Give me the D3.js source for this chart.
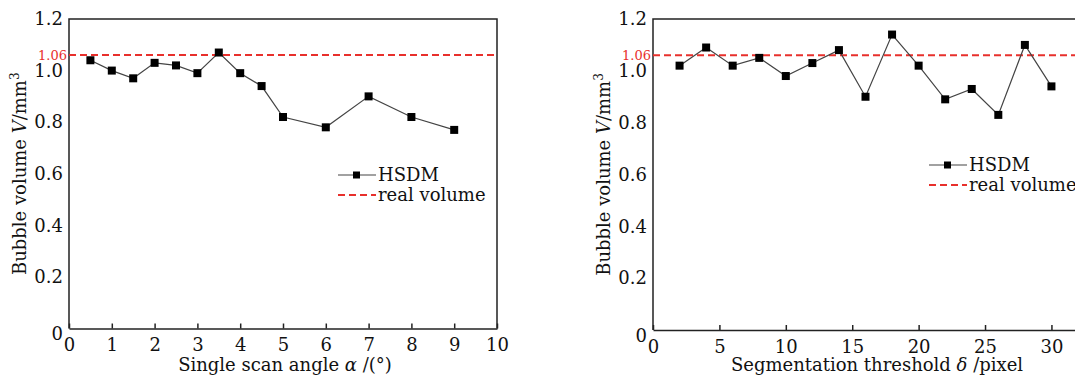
<!DOCTYPE html>
<html lang="en">
  <head>
    <meta charset="UTF-8" />
    <title>Bubble volume</title>
    <style>
      body { margin: 0; background: #fff; }
      text { font-family: "DejaVu Serif", serif; fill: #111; }
    </style>
  </head>
  <body>
    <svg width="1075" height="378"></svg>

    <script src="https://d3js.org/d3.v7.min.js"></script>
    <script>
      // left panel: single scan angle
      const angleX = [0.5, 1, 1.5, 2, 2.5, 3, 3.5, 4, 4.5, 5, 6, 7, 8, 9];
      const angleV = [1.04, 1.0, 0.97, 1.03, 1.02, 0.99, 1.07, 0.99, 0.94, 0.82, 0.78, 0.9, 0.82, 0.77];
      // right panel: segmentation threshold
      const threshX = [2, 4, 6, 8, 10, 12, 14, 16, 18, 20, 22, 24, 26, 28, 30];
      const threshV = [1.02, 1.09, 1.02, 1.05, 0.98, 1.03, 1.08, 0.9, 1.14, 1.02, 0.89, 0.93, 0.83, 1.1, 0.94];
      const realVolume = 1.06;
      const yTicks = [0, 0.2, 0.4, 0.6, 0.8, 1.0, 1.2];
      const angleTicks = [0, 1, 2, 3, 4, 5, 6, 7, 8, 9, 10];
      const threshTicks = [0, 5, 10, 15, 20, 25, 30];

      const svg = d3.select("svg");

      const panels = [
        {
          xs: angleX, ys: angleV, ticks: angleTicks, domain: [0, 10],
          left: 69, right: 497, top: 19, bottom: 328.5, boxRight: true,
          xlabel: "Single scan angle", sym: "α", unit: " /(°)", xlabelX: 285,
          legendX: 338, legendY: 175, ylabelX: 26
        },
        {
          xs: threshX, ys: threshV, ticks: threshTicks, domain: [0, 32],
          left: 653, right: 1078, top: 19, bottom: 330, boxRight: false,
          xlabel: "Segmentation threshold", sym: "δ", unit: " /pixel", xlabelX: 877,
          legendX: 929, legendY: 165, ylabelX: 610
        }
      ];

      panels.forEach(p => {
        const x = d3.scaleLinear().domain(p.domain).range([p.left, p.right]);
        const y = d3.scaleLinear().domain([0, 1.2]).range([p.bottom, p.top]);
        const g = svg.append("g");

        // frame
        const fr = [[p.left, p.bottom], [p.left, p.top], [p.right, p.top]];
        if (p.boxRight) fr.push([p.right, p.bottom]);
        g.append("path")
          .attr("d", d3.line()(fr))
          .attr("fill", "none").attr("stroke", "#222").attr("stroke-width", 1.5);

        // x axis
        const xa = g.append("g")
          .attr("transform", `translate(0,${p.bottom})`)
          .call(d3.axisBottom(x).tickValues(p.ticks).tickSizeInner(-5).tickSizeOuter(0).tickPadding(10));
        xa.select(".domain").attr("stroke", "#222").attr("stroke-width", 1.5);
        xa.selectAll(".tick line").attr("stroke", "#222").attr("stroke-width", 1.5);
        xa.selectAll(".tick text").attr("font-size", 18).attr("font-family", "DejaVu Serif").attr("fill", "#111");

        // y axis
        const ya = g.append("g")
          .attr("transform", `translate(${p.left},0)`)
          .call(d3.axisLeft(y).tickValues(yTicks).tickSize(0).tickPadding(6)
            .tickFormat(d => d === 0 ? "0" : d3.format(".1f")(d)));
        ya.select(".domain").remove();
        ya.selectAll(".tick text").attr("font-size", 18).attr("font-family", "DejaVu Serif").attr("fill", "#111")
          .attr("dy", d => d === 0 ? "0.62em" : "0.32em");

        // real volume line
        g.append("line")
          .attr("x1", p.left).attr("x2", Math.min(p.right, 1075))
          .attr("y1", y(realVolume)).attr("y2", y(realVolume))
          .attr("stroke", "#e8302c").attr("stroke-width", 2).attr("stroke-dasharray", "7,4");
        g.append("text")
          .attr("x", p.left - 2).attr("y", y(realVolume)).attr("dy", "0.35em")
          .attr("text-anchor", "end").attr("font-size", 13)
          .style("fill", "#e8302c").text("1.06");

        // series
        const pts = p.xs.map((v, i) => [x(v), y(p.ys[i])]);
        g.append("path")
          .attr("d", d3.line()(pts))
          .attr("fill", "none").attr("stroke", "#444").attr("stroke-width", 1.2);
        g.selectAll("rect.pt").data(pts).join("rect")
          .attr("class", "pt")
          .attr("x", d => d[0] - 4).attr("y", d => d[1] - 4)
          .attr("width", 8).attr("height", 8).attr("fill", "#000");

        // legend
        const lx = p.legendX, ly = p.legendY;
        g.append("line").attr("x1", lx).attr("x2", lx + 38).attr("y1", ly).attr("y2", ly)
          .attr("stroke", "#444").attr("stroke-width", 1.2);
        g.append("rect").attr("x", lx + 15).attr("y", ly - 3.5).attr("width", 7).attr("height", 7).attr("fill", "#000");
        g.append("text").attr("x", lx + 40).attr("y", ly).attr("dy", "0.35em")
          .attr("font-size", 18).text("HSDM");
        g.append("line").attr("x1", lx).attr("x2", lx + 38).attr("y1", ly + 20).attr("y2", ly + 20)
          .attr("stroke", "#e8302c").attr("stroke-width", 2).attr("stroke-dasharray", "7,4");
        g.append("text").attr("x", lx + 40).attr("y", ly + 20).attr("dy", "0.35em")
          .attr("font-size", 18).text("real volume");

        // x label
        const xl = g.append("text")
          .attr("x", p.xlabelX)
          .attr("y", 371).attr("text-anchor", "middle").attr("font-size", 18);
        xl.append("tspan").text(p.xlabel + " ");
        xl.append("tspan").attr("font-style", "italic").text(p.sym);
        xl.append("tspan").text(p.unit);

        // y label
        const yl = g.append("text")
          .attr("transform", `translate(${p.ylabelX},${(p.top + p.bottom) / 2}) rotate(-90)`)
          .attr("text-anchor", "middle").attr("font-size", 18);
        yl.append("tspan").text("Bubble volume ");
        yl.append("tspan").attr("font-style", "italic").text("V");
        yl.append("tspan").text("/mm");
        yl.append("tspan").attr("font-size", 12).attr("dy", -7).text("3");
      });
    </script>
  </body>
</html>
